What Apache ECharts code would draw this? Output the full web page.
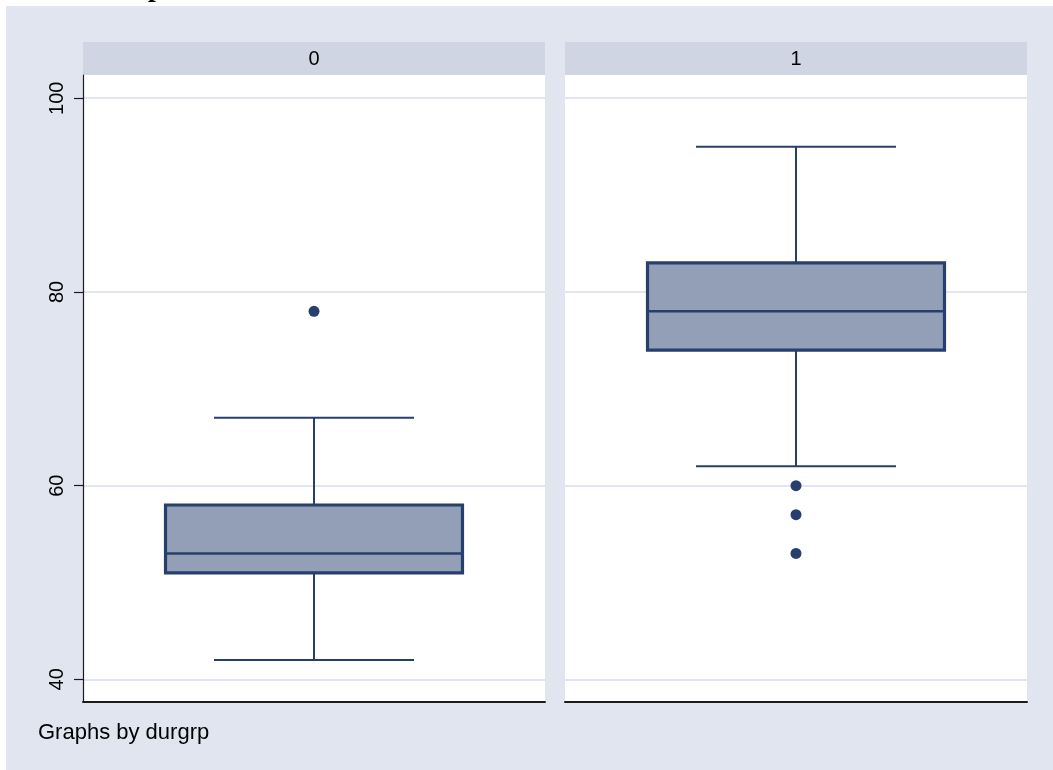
<!DOCTYPE html>
<html>
<head>
<meta charset="utf-8">
<script src="https://cdn.jsdelivr.net/npm/echarts@6/dist/echarts.min.js"></script>
<style>
  html, body { margin: 0; padding: 0; background: #fff; }
  #chart { width: 1053px; height: 770px; }
</style>
</head>
<body>
<div id="chart"></div>
<script>
// Panel groups (durgrp)
const groups = ['0', '1'];
// Per group: [lower whisker, q1, median, q3, upper whisker]
const boxGroup0 = [42, 51, 53, 58, 67];
const boxGroup1 = [62, 74, 78, 83, 95];
// Points beyond the whiskers
const outliersGroup0 = [78];
const outliersGroup1 = [60, 57, 53];
// y axis
const yTicks = [40, 60, 80, 100];
const yMin = 37.66;
const yMax = 102.4;
const noteText = 'Graphs by durgrp';
const titleText = 'p';

const NAVY = '#273f6d';
const BOX_FILL = '#929fb7';
const BG = '#e0e5f0';
const STRIP = '#cfd5e2';
const GRIDLINE = '#e1e5f0';
const AXIS = '#1c1c1c';
const FONT = 'Liberation Sans, Arial, sans-serif';

const chart = echarts.init(document.getElementById('chart'), null, { renderer: 'canvas' });

function renderBox(params, api) {
  const x = api.value(0);
  const band = api.size([1, 0])[0];
  const cx = api.coord([x, api.value(3)])[0];
  const y = i => api.coord([x, api.value(i)])[1];
  const yLo = y(1), yQ1 = y(2), yMed = y(3), yQ3 = y(4), yHi = y(5);
  const halfBox = band * 0.3214;
  const halfCap = band * 0.2165;
  const line = (x1, y1, x2, y2, w) => ({
    type: 'line',
    shape: { x1, y1, x2, y2 },
    style: { stroke: NAVY, lineWidth: w }
  });
  return {
    type: 'group',
    children: [
      line(cx, yHi, cx, yQ3, 2),
      line(cx - halfCap, yHi, cx + halfCap, yHi, 2),
      line(cx, yQ1, cx, yLo, 2),
      line(cx - halfCap, yLo, cx + halfCap, yLo, 2),
      {
        type: 'rect',
        shape: { x: cx - halfBox, y: yQ3, width: halfBox * 2, height: yQ1 - yQ3 },
        style: { fill: BOX_FILL, stroke: NAVY, lineWidth: 3.2 }
      },
      line(cx - halfBox, yMed, cx + halfBox, yMed, 2.4)
    ]
  };
}

const panels = [
  { left: 83, box: boxGroup0, outliers: outliersGroup0 },
  { left: 565, box: boxGroup1, outliers: outliersGroup1 }
];

const grid = panels.map(p => ({
  left: p.left, top: 75, width: 462, height: 627,
  show: true, backgroundColor: '#fff', borderWidth: 0
}));

const xAxis = panels.map((p, i) => ({
  type: 'category',
  gridIndex: i,
  data: [groups[i]],
  boundaryGap: true,
  axisLine: { show: true, lineStyle: { color: AXIS, width: 2 } },
  axisTick: { show: false },
  axisLabel: { show: false },
  splitLine: { show: false }
}));

const yAxis = panels.map((p, i) => ({
  type: 'value',
  gridIndex: i,
  min: yMin,
  max: yMax,
  splitNumber: 3,
  axisLine: { show: i === 0, lineStyle: { color: AXIS, width: 1.2 } },
  axisTick: {
    show: i === 0, length: 9, customValues: yTicks,
    lineStyle: { color: AXIS, width: 1.2 }
  },
  axisLabel: {
    show: i === 0, customValues: yTicks, rotate: 90, margin: 16,
    color: '#000', fontSize: 20, fontFamily: FONT,
    showMinLabel: true, showMaxLabel: true
  },
  splitLine: { show: true, lineStyle: { color: GRIDLINE, width: 2 } }
}));

const series = [];
panels.forEach((p, i) => {
  series.push({
    type: 'custom',
    xAxisIndex: i,
    yAxisIndex: i,
    renderItem: renderBox,
    encode: { x: 0, y: [1, 2, 3, 4, 5] },
    data: [[0].concat(p.box)],
    z: 3
  });
  series.push({
    type: 'scatter',
    xAxisIndex: i,
    yAxisIndex: i,
    symbol: 'circle',
    symbolSize: 11,
    itemStyle: { color: NAVY, opacity: 1 },
    emphasis: { disabled: true },
    data: p.outliers.map(v => [0, v]),
    z: 4
  });
});

const graphic = [
  // white margin along the top and left edges
  { type: 'rect', left: 0, top: 0, shape: { width: 1053, height: 6 }, style: { fill: '#fff' }, z: 1 },
  { type: 'rect', left: 0, top: 0, shape: { width: 6, height: 770 }, style: { fill: '#fff' }, z: 1 },
  {
    type: 'text', x: 148, y: -11.5, z: 2,
    style: {
      text: titleText, fill: '#000', font: 'bold 28px "Liberation Serif", serif',
      align: 'left', verticalAlign: 'middle'
    }
  },
  // panel header strips
  ...panels.map((p, i) => ({
    type: 'group',
    children: [
      { type: 'rect', shape: { x: p.left, y: 42, width: 462, height: 33 }, style: { fill: STRIP } },
      {
        type: 'text', x: p.left + 231, y: 59,
        style: {
          text: groups[i], fill: '#000', font: '20px ' + FONT,
          align: 'center', verticalAlign: 'middle'
        }
      }
    ]
  })),
  {
    type: 'text', x: 38, y: 733,
    style: {
      text: noteText, fill: '#000', font: '22px ' + FONT,
      align: 'left', verticalAlign: 'middle'
    }
  }
];

chart.setOption({
  backgroundColor: BG,
  animation: false,
  grid,
  xAxis,
  yAxis,
  series,
  graphic
});
</script>
</body>
</html>
